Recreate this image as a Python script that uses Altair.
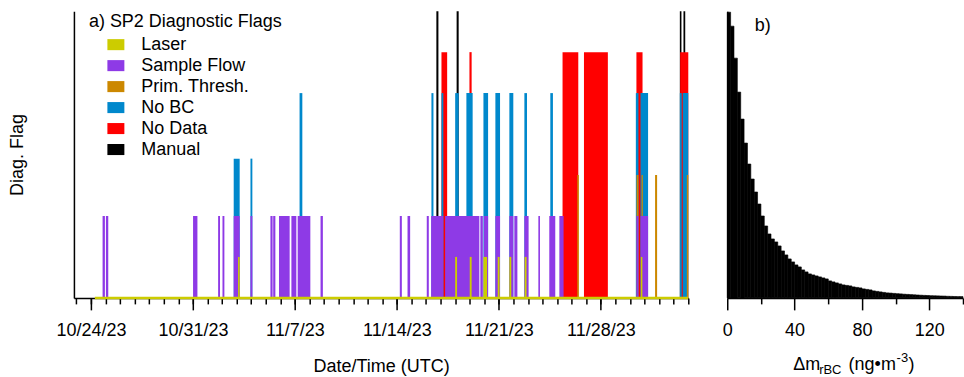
import altair as alt
import pandas as pd

# ---------------- panel a) diagnostic flags ----------------
FLAGS = ["Laser", "Sample Flow", "Prim. Thresh.", "No BC", "No Data", "Manual"]
FLAG_COLORS = ["#CCCC00", "#8E3AE6", "#CC8800", "#0088CC", "#FF0000", "#000000"]
DRAW_ORDER = ["Manual", "No Data", "No BC", "Prim. Thresh.", "Sample Flow", "Laser"]
FLAG_LEVEL = {"Laser": 1, "Sample Flow": 2, "Prim. Thresh.": 3,
              "No BC": 5, "No Data": 6, "Manual": 7}
NO_BC_LOW_LEVEL = 3.4

X_START = "2023-10-22 20:00"
X_END = "2023-12-04 00:00"
LASER_BASELINE = ("2023-10-24 06:30", "2023-12-04 00:00")

LASER = [
    ("2023-11-03 02:24", "2023-11-03 05:02"), ("2023-11-18 00:00", "2023-11-18 03:07"),
    ("2023-11-19 00:00", "2023-11-19 03:07"), ("2023-11-19 22:34", "2023-11-20 04:34"),
    ("2023-11-20 22:05", "2023-11-21 01:12"), ("2023-11-21 17:17", "2023-11-21 20:24"),
    ("2023-11-22 18:29", "2023-11-22 21:36"), ("2023-11-30 17:46", "2023-11-30 20:24"),
]
SAMPLE_FLOW = [
    ("2023-10-24 19:12", "2023-10-24 23:02"), ("2023-10-25 00:43", "2023-10-25 04:34"),
    ("2023-10-31 00:14", "2023-10-31 07:26"), ("2023-11-01 17:31", "2023-11-01 20:38"),
    ("2023-11-02 00:43", "2023-11-02 03:50"), ("2023-11-02 19:12", "2023-11-03 05:02"),
    ("2023-11-03 22:48", "2023-11-04 01:55"), ("2023-11-05 07:41", "2023-11-05 11:17"),
    ("2023-11-05 12:14", "2023-11-05 15:50"), ("2023-11-05 21:50", "2023-11-06 15:22"),
    ("2023-11-06 18:14", "2023-11-07 02:24"), ("2023-11-07 04:34", "2023-11-08 01:26"),
    ("2023-11-08 18:14", "2023-11-08 22:05"), ("2023-11-14 04:48", "2023-11-14 08:10"),
    ("2023-11-14 17:31", "2023-11-14 21:50"), ("2023-11-16 01:12", "2023-11-16 04:34"),
    ("2023-11-16 08:24", "2023-11-17 04:34"), ("2023-11-17 07:26", "2023-11-19 15:50"),
    ("2023-11-19 17:31", "2023-11-19 21:36"), ("2023-11-19 23:17", "2023-11-20 06:14"),
    ("2023-11-20 18:14", "2023-11-21 01:55"), ("2023-11-21 17:17", "2023-11-21 23:46"),
    ("2023-11-22 01:26", "2023-11-22 06:29"), ("2023-11-22 18:00", "2023-11-23 00:58"),
    ("2023-11-23 17:02", "2023-11-23 19:41"), ("2023-11-24 11:02", "2023-11-24 20:53"),
    ("2023-11-25 03:36", "2023-11-25 10:34"), ("2023-11-30 10:34", "2023-11-30 13:55"),
    ("2023-11-30 17:17", "2023-12-01 05:46"),
]
PRIM_THRESH = [
    ("2023-11-26 09:07", "2023-11-26 11:46"), ("2023-11-30 10:48", "2023-11-30 13:55"),
    ("2023-11-30 18:58", "2023-11-30 21:07"), ("2023-12-01 17:17", "2023-12-01 20:38"),
    ("2023-12-03 21:36", "2023-12-04 00:00"),
]
NO_BC_LOW = [
    ("2023-11-02 19:12", "2023-11-03 05:02"), ("2023-11-03 22:48", "2023-11-04 01:55"),
]
NO_BC = [
    ("2023-11-07 07:41", "2023-11-07 12:14"), ("2023-11-16 08:53", "2023-11-16 12:14"),
    ("2023-11-17 01:26", "2023-11-17 04:34"), ("2023-11-18 00:00", "2023-11-18 05:46"),
    ("2023-11-18 18:29", "2023-11-19 04:48"), ("2023-11-19 22:34", "2023-11-20 06:14"),
    ("2023-11-20 18:14", "2023-11-21 01:55"), ("2023-11-21 17:17", "2023-11-21 23:46"),
    ("2023-11-22 18:00", "2023-11-22 22:19"), ("2023-11-24 12:43", "2023-11-24 17:02"),
    ("2023-11-30 09:36", "2023-11-30 13:55"), ("2023-11-30 17:17", "2023-12-01 05:46"),
    ("2023-12-03 10:05", "2023-12-03 13:12"), ("2023-12-03 14:53", "2023-12-04 00:00"),
]
NO_DATA = [
    ("2023-11-17 01:26", "2023-11-17 10:48"), ("2023-11-18 23:31", "2023-11-19 03:07"),
    ("2023-11-25 08:53", "2023-11-26 10:48"), ("2023-11-26 20:10", "2023-11-28 11:31"),
    ("2023-11-30 10:34", "2023-11-30 20:38"), ("2023-12-03 10:34", "2023-12-04 00:00"),
]
MANUAL = [
    ("2023-11-16 17:02", "2023-11-16 20:24"), ("2023-11-18 02:24", "2023-11-18 05:46"),
    ("2023-12-03 10:05", "2023-12-03 12:43"), ("2023-12-03 16:05", "2023-12-03 18:58"),
]

WEEK_TICKS = ["2023-10-24", "2023-10-31", "2023-11-07", "2023-11-14", "2023-11-21", "2023-11-28"]
DAY_TICK_RANGE = ("2023-10-23", "2023-12-04")

# ---------------- panel b) histogram ----------------
HIST_BIN_LO = [0, 2, 4, 6, 8, 10, 12, 14, 16, 18, 20, 22, 24, 26, 28, 30, 32, 34,
               36, 38, 40, 42, 44, 46, 48, 50, 52, 54, 56, 58, 60, 62, 64, 66, 68,
               70, 72, 74, 76, 78, 80, 82, 84, 86, 88, 90, 92, 94, 96, 98, 100, 102,
               104, 106, 108, 110, 112, 114, 116, 118, 120, 122, 124, 126, 128, 130,
               132, 134, 136, 138]
HIST_BIN_WIDTH = 2
HIST_COUNTS = [286, 272, 240, 206, 179, 155, 134, 119, 106, 94, 82, 72, 64, 59, 56,
               52, 47, 43, 39, 36, 33, 31, 28, 26, 24, 23, 22, 21, 20, 19, 17, 16,
               15, 14, 13, 12.5, 12, 11, 10.5, 10, 9, 8.5, 8, 7, 6.5, 6, 5.5, 5, 4.8,
               4.5, 4.2, 4.0, 3.7, 3.5, 3.3, 3.1, 2.9, 2.7, 2.5, 2.4, 2.2, 2.1, 2.0,
               1.9, 1.8, 1.6, 1.5, 1.4, 1.3, 1.3]
HIST_MAX = 287
HIST_XMAX = 140
HIST_TICKS = [0, 20, 40, 60, 80, 100, 120, 140]

FONT = "Liberation Sans"
LABEL_PAD = 11.5


def ms(s):
    return int(pd.Timestamp(s, tz="UTC").value // 10**6)


rows = []
for flag, intervals, level in [
    ("Laser", LASER, FLAG_LEVEL["Laser"]),
    ("Sample Flow", SAMPLE_FLOW, FLAG_LEVEL["Sample Flow"]),
    ("Prim. Thresh.", PRIM_THRESH, FLAG_LEVEL["Prim. Thresh."]),
    ("No BC", NO_BC_LOW, NO_BC_LOW_LEVEL),
    ("No BC", NO_BC, FLAG_LEVEL["No BC"]),
    ("No Data", NO_DATA, FLAG_LEVEL["No Data"]),
    ("Manual", MANUAL, FLAG_LEVEL["Manual"]),
]:
    for s, e in intervals:
        rows.append({"flag": flag, "start": ms(s), "end": ms(e), "level": level})
flags_df = pd.DataFrame(rows)

day_ticks = [int(t.value // 10**6) for t in pd.date_range(DAY_TICK_RANGE[0], DAY_TICK_RANGE[1], freq="D", tz="UTC")]
week_ticks = [ms(d) for d in WEEK_TICKS]

x_scale = alt.Scale(type="utc", domain=[ms(X_START), ms(X_END)], nice=False)
x_major = alt.X(
    "start:T",
    scale=x_scale,
    axis=alt.Axis(
        title="Date/Time (UTC)",
        values=week_ticks,
        format="%-m/%-d/%y",
        labelOverlap=False,
        labelFlush=False,
        labelPadding=LABEL_PAD,
        tickSize=12,
        titlePadding=18,
        orient="bottom",
    ),
)
x_minor = alt.X(
    "start:T",
    scale=x_scale,
    axis=alt.Axis(title=None, values=day_ticks, labels=False, tickSize=6, orient="bottom", domain=False),
)
y_enc = alt.Y(
    "level:Q",
    scale=alt.Scale(domain=[0, 7], nice=False, zero=True),
    axis=alt.Axis(title="Diag. Flag", labels=False, ticks=False, titlePadding=47),
)
color_enc = alt.Color(
    "flag:N",
    scale=alt.Scale(domain=FLAGS, range=FLAG_COLORS),
    legend=alt.Legend(
        title="a) SP2 Diagnostic Flags",
        orient="none",
        legendX=15,
        legendY=2,
        symbolType="M-1,-0.65H1V0.65H-1Z",
        symbolSize=289,
        symbolStrokeWidth=0,
        symbolOffset=18,
        labelOffset=16.5,
        rowPadding=3,
        titlePadding=4.5,
        titleLimit=500,
        labelLimit=300,
    ),
)

base = alt.Chart(flags_df)
rect_layers = []
for f in DRAW_ORDER:
    rect_layers.append(
        base.transform_filter(alt.datum.flag == f)
        .mark_rect()
        .encode(x=x_major, x2="end:T", y=y_enc, y2=alt.datum(0), color=color_enc)
    )
flag_group = alt.layer(*rect_layers)

baseline_df = pd.DataFrame({"start": [ms(LASER_BASELINE[0])], "end": [ms(LASER_BASELINE[1])], "level": [0]})
baseline = (
    alt.Chart(baseline_df).mark_rule(color=FLAG_COLORS[0], strokeWidth=2.5)
    .encode(x=x_minor, x2="end:T", y=alt.Y("level:Q"))
)
left = alt.layer(flag_group, baseline).resolve_axis(x="independent").properties(width=615, height=287)

# ---------------- right panel ----------------
hist_df = pd.DataFrame({"lo": HIST_BIN_LO, "count": HIST_COUNTS})
hist = (
    alt.Chart(hist_df)
    .transform_calculate(hi=f"datum.lo + {HIST_BIN_WIDTH}")
    .mark_rect(color="black", stroke="black", strokeWidth=0.6)
    .encode(
        x=alt.X(
            "lo:Q",
            scale=alt.Scale(domain=[0, HIST_XMAX], nice=False),
            axis=alt.Axis(
                title=None,
                values=HIST_TICKS,
                labelExpr="datum.value % 40 == 0 ? datum.label : ''",
                labelOverlap=False,
                labelFlush=False,
                labelPadding=LABEL_PAD,
                tickSize={"condition": {"test": "datum.value % 40 == 0", "value": 12}, "value": 6},
            ),
        ),
        x2="hi:Q",
        y=alt.Y("count:Q", scale=alt.Scale(domain=[0, HIST_MAX], nice=False),
                axis=alt.Axis(title=None, labels=False, ticks=False)),
        y2=alt.datum(0),
    )
)

txt = pd.DataFrame({"t": ["b)"]})
panel_label = alt.Chart(txt).mark_text(align="left", baseline="alphabetic", fontSize=18, font=FONT,
                                       color="black").encode(text="t:N", x=alt.value(27.5), y=alt.value(20))

title_parts = pd.DataFrame({
    "t": ["Δm", "rBC", "(ng•m", "-3", ")"],
    "px": [66, 92, 121.5, 169.5, 181.5],
    "py": [359, 363.3, 359, 350.7, 359],
    "fs": [18, 13, 18, 13, 18],
})
axis_title = (
    alt.Chart(title_parts)
    .mark_text(align="left", baseline="alphabetic", font=FONT, color="black")
    .encode(
        text="t:N",
        x=alt.X("px:Q", scale=None),
        y=alt.Y("py:Q", scale=None),
        size=alt.Size("fs:Q", scale=None, legend=None),
    )
)
right = alt.layer(hist, panel_label, axis_title).resolve_scale(x="independent", y="independent").properties(width=236, height=287)

chart = (
    alt.hconcat(left, right, spacing=31)
    .properties(padding={"left": 9, "top": 11, "right": 0, "bottom": 0})
    .configure_view(stroke=None)
    .configure_axis(
        domainColor="black", tickColor="black", labelColor="black", titleColor="black",
        labelFont=FONT, titleFont=FONT, labelFontSize=18, titleFontSize=18,
        titleFontWeight="normal", grid=False, domainWidth=1.5, tickWidth=1.5,
    )
    .configure_legend(
        titleFont=FONT, labelFont=FONT, titleFontSize=18, labelFontSize=18,
        titleFontWeight="normal", titleColor="black", labelColor="black",
    )
)

chart.save("out.html", embed_options={"renderer": "svg", "actions": False})
